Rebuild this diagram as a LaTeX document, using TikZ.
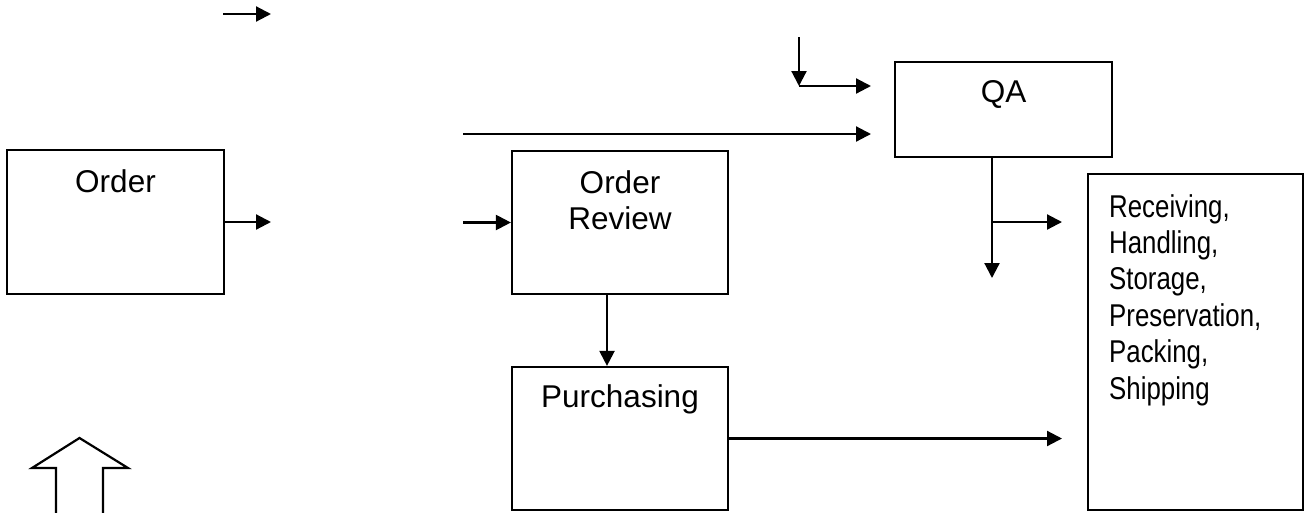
\documentclass[tikz,border=0pt]{standalone}
\usepackage{fontspec}
\setmainfont{Liberation Sans}
\newfontfamily\narrowfont{Liberation Sans}[FakeStretch=0.82]
\usetikzlibrary{arrows.meta}

\tikzset{
  box/.style={draw=black, line width=2.2pt, inner sep=0pt},
  lbl/.style={anchor=base, inner sep=0pt, font=\fontsize{31.5pt}{37pt}\selectfont},
  flow/.style={line width=2.2pt, -{Triangle[length=15pt,width=15pt]}},
  plain/.style={line width=2.2pt},
}

\begin{document}
\begin{tikzpicture}[x=1pt, y=-1pt]
  \useasboundingbox (0,0) rectangle (1306,512);

  % process boxes
  \node[box, minimum width=217pt, minimum height=144pt] (order) at (115.5,222) {};
  \node[box, minimum width=216pt, minimum height=143pt] (review) at (620,222.5) {};
  \node[box, minimum width=217pt, minimum height=95pt] (qa) at (1003.5,109.5) {};
  \node[box, minimum width=216pt, minimum height=143pt] (purch) at (620,438.5) {};
  \node[box, minimum width=215pt, minimum height=336pt] (recv) at (1195.5,342) {};

  % box labels
  \node[lbl] (tOrder) at (115.5,192) {Order};
  \node[lbl] (tReview1) at (620,193) {Order};
  \node[lbl] (tReview2) at (620,229) {Review};
  \node[lbl] (tQA) at (1003.5,102) {QA};
  \node[lbl] (tPurch) at (620,407) {Purchasing};
  \node[anchor=north west, inner sep=0pt, align=left,
        font=\narrowfont\fontsize{31.5pt}{36.4pt}\selectfont] (tRecv) at (1109,194)
        {Receiving,\\Handling,\\Storage,\\Preservation,\\Packing,\\Shipping};

  % loose connector ends
  \coordinate (topA) at (223,14);
  \coordinate (topB) at (271,14);
  \coordinate (ordOut) at (271,222);
  \coordinate (revIn) at (463,222.5);
  \coordinate (longA) at (463,134);
  \coordinate (longB) at (871,134);
  \coordinate (elbowTop) at (799,37);
  \coordinate (elbow) at (799,86);
  \coordinate (elbowEnd) at (871,86);
  \coordinate (revX) at (607,0);
  \coordinate (qaX) at (992,0);
  \coordinate (qaDown) at (992,278);
  \coordinate (qaBranch) at (992,222);
  \coordinate (qaBranchEnd) at (1062,222);
  \coordinate (purchEnd) at (1062,438.5);

  % connectors
  \draw[flow] (topA) -- (topB);
  \draw[flow] (order.east) -- (ordOut);
  \draw[flow] (revIn) -- (review.west);
  \draw[flow] (longA) -- (longB);
  \draw[flow] (elbowTop) -- (elbow);
  \draw[flow] (elbow) -- (elbowEnd);
  \draw[flow] (review.south -| revX) -- (purch.north -| revX);
  \draw[flow] (qa.south -| qaX) -- (qaDown);
  \draw[flow] (qaBranch) -- (qaBranchEnd);
  \draw[flow] (purch.east) -- (purchEnd);

  % hollow block arrow pointing up
  \draw[plain, line join=miter]
    (56,520) -- (56,468) -- (32,468) -- (79.5,438) -- (128,468) -- (103,468) -- (103,520);
\end{tikzpicture}
\end{document}
